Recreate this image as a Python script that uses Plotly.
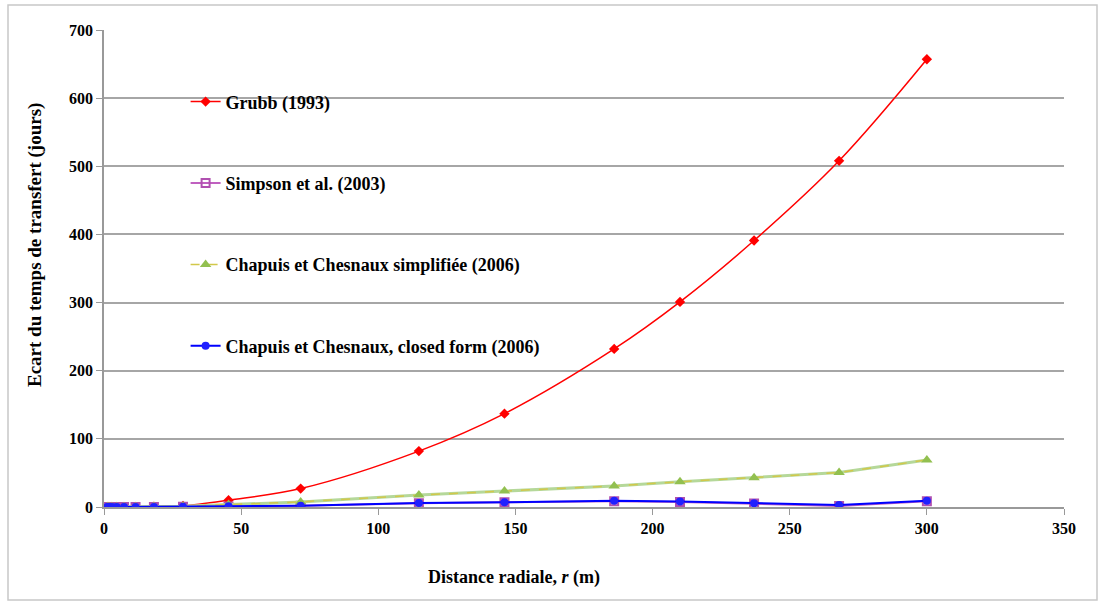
import plotly.graph_objects as go

# Radial distance r (m)
distance = [1.2, 1.8, 2.9, 4.6, 7.3, 11.5, 18.2, 28.8, 45.4, 71.7, 114.8, 146, 186, 210, 237, 268, 300]

grubb = [0, 0, 0, 0, 0, 0, 0.3, 1.5, 10, 27, 82, 137, 232, 301, 391, 508, 657]
simpson = [0, 0, 0, 0, 0, 0, 0, 0.4, 0.8, 1.8, 5.5, 7, 8.5, 7.5, 5, 1.5, 8.5]
chapuis_simpl = [0, 0, 0, 0, 0, 0, 0.2, 1, 3.5, 7.5, 17.5, 23.5, 31, 37, 43, 50.5, 69]
chapuis_closed = [0, 0, 0, 0, 0, 0, 0.1, 0.5, 1, 2, 6, 7, 9, 8, 5.5, 3, 9]

names = [
    "Grubb (1993)",
    "Simpson et al. (2003)",
    "Chapuis et Chesnaux simplifiée (2006)",
    "Chapuis et Chesnaux, closed form (2006)",
]

x_ticks = [0, 50, 100, 150, 200, 250, 300, 350]
y_ticks = [0, 100, 200, 300, 400, 500, 600, 700]

FONT = "Liberation Serif"

fig = go.Figure()

fig.add_trace(go.Scatter(
    x=distance, y=grubb, name=names[0], legendgroup="g1",
    mode="lines+markers", line=dict(color="#FF0000", width=1.5, shape="spline"),
    marker=dict(symbol="diamond", size=8, color="#FF0000"),
))
fig.add_trace(go.Scatter(
    x=distance, y=simpson, name=names[1], legendgroup="g2",
    mode="lines+markers", line=dict(color="#C060C0", width=2),
    marker=dict(symbol="square-open", size=8, color="#B050B0", line=dict(width=2)),
))
# light green base under the dashed yellow line
fig.add_trace(go.Scatter(
    x=distance, y=chapuis_simpl, showlegend=False, legendgroup="g3",
    mode="lines", line=dict(color="#B5D89A", width=3), hoverinfo="skip",
))
fig.add_trace(go.Scatter(
    x=distance, y=chapuis_simpl, name=names[2], legendgroup="g3",
    mode="lines+markers", line=dict(color="#D2C84A", width=1.5, dash="dash"),
    marker=dict(symbol="triangle-up", size=10, color="#92C050"),
))
fig.add_trace(go.Scatter(
    x=distance, y=chapuis_closed, name=names[3], legendgroup="g4",
    mode="lines+markers", line=dict(color="#0000FF", width=2),
    marker=dict(symbol="circle", size=8, color="#2020FF"),
))

fig.update_layout(
    width=1102, height=607,
    margin=dict(l=104, r=38, t=30, b=100),
    paper_bgcolor="white", plot_bgcolor="white",
    font=dict(family=FONT, color="black"),
    showlegend=True,
    legend=dict(
        x=0.085, y=0.888, xanchor="left", yanchor="top",
        font=dict(family=FONT, size=18, color="black", weight="bold"),
        bgcolor="rgba(0,0,0,0)", tracegroupgap=55,
        itemwidth=30,
    ),
    xaxis=dict(
        range=[0, 350], tickvals=x_ticks, ticktext=[str(v) for v in x_ticks],
        showgrid=False, zeroline=False, showline=True, linecolor="#999999", linewidth=1.5,
        ticks="outside", ticklen=6, tickcolor="#999999",
        tickfont=dict(family=FONT, size=16, color="black", weight="bold"),
    ),
    yaxis=dict(
        range=[0, 700], tickvals=y_ticks, ticktext=[str(v) for v in y_ticks],
        showgrid=True, gridcolor="#A6A6A6", gridwidth=1.5, zeroline=False,
        showline=True, linecolor="#999999", linewidth=1.5,
        ticks="outside", ticklen=6, tickcolor="#999999",
        tickfont=dict(family=FONT, size=16, color="black", weight="bold"),
    ),
    shapes=[dict(
        type="rect", xref="paper", yref="paper",
        x0=(8 - 104) / 960, x1=(1097 - 104) / 960,
        y0=(507 - 600) / 477, y1=(507 - 5) / 477,
        line=dict(color="#C8C8C8", width=1.5), fillcolor="rgba(0,0,0,0)", layer="below",
    )],
    annotations=[
        dict(text="Ecart du temps de transfert (jours)", textangle=-90,
             xref="paper", yref="paper", x=(35 - 104) / 960, y=(507 - 245) / 477,
             xanchor="center", yanchor="middle", showarrow=False,
             font=dict(family=FONT, size=19, color="black", weight="bold")),
        dict(text="Distance radiale, <i>r</i> (m)",
             xref="paper", yref="paper", x=(514 - 104) / 960, y=(507 - 577) / 477,
             xanchor="center", yanchor="middle", showarrow=False,
             font=dict(family=FONT, size=18, color="black", weight="bold")),
    ],
)

fig.write_html("out.html")
